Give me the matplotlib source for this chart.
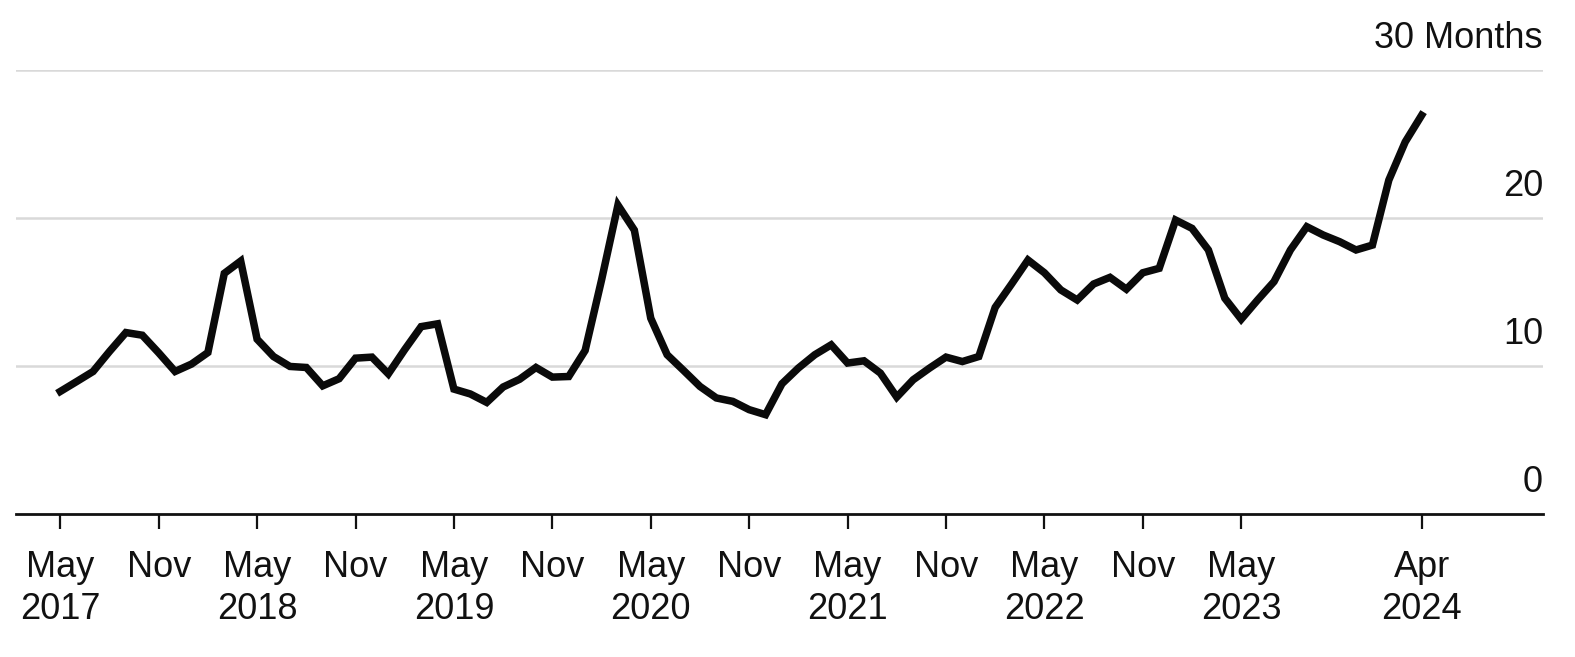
import matplotlib
matplotlib.use("Agg")
import matplotlib.pyplot as plt
import matplotlib.transforms as mtransforms
import numpy as np
import pandas as pd

plt.rcParams['font.family'] = ['Liberation Sans', 'DejaVu Sans']

start_month = "2017-05"
end_month = "2024-04"
values = [8.28, 8.95, 9.63, 10.98, 12.26, 12.08, 10.89, 9.63, 10.13, 10.91,
          16.26, 17.09, 11.81, 10.64, 9.97, 9.90, 8.66, 9.14, 10.53, 10.60,
          9.47, 11.11, 12.66, 12.85, 8.44, 8.11, 7.54, 8.58, 9.10, 9.90,
          9.25, 9.29, 11.05, 15.81, 20.87, 19.18, 13.23, 10.76, 9.70, 8.62,
          7.84, 7.61, 7.05, 6.71, 8.80, 9.86, 10.76, 11.43, 10.20, 10.35,
          9.52, 7.90, 9.07, 9.86, 10.60, 10.30, 10.64, 13.96, 15.54, 17.16,
          16.30, 15.14, 14.46, 15.54, 15.99, 15.19, 16.30, 16.60, 19.86, 19.30,
          17.84, 14.58, 13.16, 14.46, 15.70, 17.84, 19.41, 18.85, 18.40, 17.84,
          18.17, 22.56, 25.14, 26.94]

tick_months = ["2017-05", "2017-11", "2018-05", "2018-11", "2019-05", "2019-11",
               "2020-05", "2020-11", "2021-05", "2021-11", "2022-05", "2022-11",
               "2023-05", "2024-04"]
tick_labels = ["May\n2017", "Nov", "May\n2018", "Nov", "May\n2019", "Nov",
               "May\n2020", "Nov", "May\n2021", "Nov", "May\n2022", "Nov",
               "May\n2023", "Apr\n2024"]

y_ticks = [0, 10, 20, 30]
y_labels = ["0", "10", "20", "30 Months"]

months = pd.period_range(start_month, end_month, freq="M")
x = np.arange(len(months))
pos = {str(p): i for i, p in enumerate(months)}
tick_pos = [pos[m] for m in tick_months]

fig = plt.figure(figsize=(15.75, 6.57), dpi=100)
ax = fig.add_axes([16 / 1575, 1 - 514 / 657, (1543 - 16) / 1575, (514 - 70) / 657])

for yv in y_ticks[1:]:
    ax.axhline(yv, color="#d9d9d9", lw=1.8, zorder=1)

ax.plot(x, values, color="#0a0a0a", lw=5.4, solid_joinstyle="miter", zorder=3)

ax.set_xlim(-2.7, 90.4)
ax.set_ylim(0, 30)

for s in ["top", "right", "left"]:
    ax.spines[s].set_visible(False)
ax.spines["bottom"].set_linewidth(2.0)
ax.spines["bottom"].set_color("#111111")

ax.set_xticks(tick_pos)
ax.set_xticklabels(tick_labels, fontsize=26, linespacing=1.24, color="#111111")
ax.tick_params(axis="x", length=11, width=1.6, color="#111111", pad=15)
ax.set_yticks([])

trans = mtransforms.blended_transform_factory(ax.transAxes, ax.transData)
for yv, lab in zip(y_ticks, y_labels):
    ax.annotate(lab, xy=(1, yv), xycoords=trans, xytext=(0, 16),
                textcoords="offset points", ha="right", va="baseline",
                fontsize=26, color="#111111")

fig.savefig("out.png", dpi=100)
